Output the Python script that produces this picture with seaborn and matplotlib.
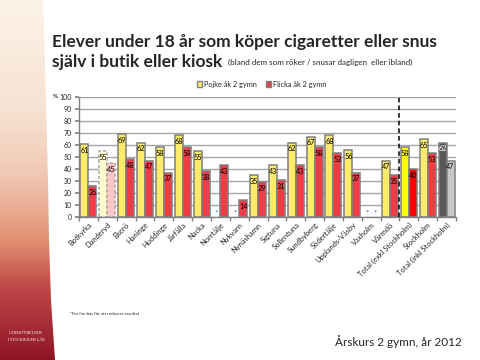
import numpy as np
import pandas as pd
import matplotlib
matplotlib.use('Agg')
import matplotlib.pyplot as plt
from matplotlib.patches import Polygon, Patch
import seaborn as sns

kommuner = ['Botkyrka', 'Danderyd', 'Ekerö', 'Haninge', 'Huddinge', 'Järfälla', 'Nacka',
            'Norrtälje', 'Nykvarn', 'Nynäshamn', 'Sigtuna', 'Sollentuna', 'Sundbyberg',
            'Södertälje', 'Upplands-Väsby', 'Vaxholm', 'Värmdö', 'Total (exkl Stockholm)',
            'Stockholm', 'Total (inkl Stockholm)']
pojke = [61, 55, 69, 62, 58, 68, 55, np.nan, np.nan, 35, 43, 62, 67, 68, 56, np.nan, 47, 58, 65, 62]
flicka = [26, 45, 48, 47, 37, 58, 38, 43, 14, 29, 31, 43, 58, 53, 37, np.nan, 35, 40, 53, 47]
serier = ['Pojke åk 2 gymn', 'Flicka åk 2 gymn']

sns.set_theme(style='white')
plt.rcParams['font.family'] = ['Lato', 'DejaVu Sans']

df = pd.DataFrame({'Kommun': kommuner * 2,
                   'Kön': [serier[0]] * len(kommuner) + [serier[1]] * len(kommuner),
                   'Andel': pojke + flicka}).dropna()

fig = plt.figure(figsize=(4.8, 3.6), dpi=100)

# left decorative band
bg = fig.add_axes([0, 0, 1, 1], zorder=0)
bg.set_xlim(0, 480)
bg.set_ylim(360, 0)
bg.axis('off')
grad = np.linspace(0, 1, 256)[:, None]
cmap = matplotlib.colors.LinearSegmentedColormap.from_list(
    'band', [(0, '#fdf3e8'), (0.33, '#f6e0d0'), (0.5, '#f0c5b0'), (0.67, '#e09070'),
             (0.8, '#c04848'), (1, '#8e1426')])
im = bg.imshow(grad, aspect='auto', cmap=cmap, extent=[0, 65, 360, 0])
edge = [(0, 0), (43, 0), (46, 100), (48, 180), (49, 240), (51, 300), (55, 360), (0, 360)]
poly = Polygon(edge, closed=True, facecolor='none', edgecolor='none')
bg.add_patch(poly)
im.set_clip_path(poly)
bg.text(26, 333, 'LÄNSSTYRELSEN', color='white', fontsize=3, ha='center', va='center',
        family='Liberation Serif')
bg.text(26, 340, 'I STOCKHOLMS LÄN', color='white', fontsize=2.8, ha='center', va='center',
        family='Liberation Serif')

ax = fig.add_axes([79 / 480, 1 - 217 / 360, (456 - 79) / 480, 120 / 360], zorder=2)
sns.barplot(data=df, x='Kommun', y='Andel', hue='Kön', order=kommuner, hue_order=serier,
            palette=['#fcec6a', '#ee3d45'], width=0.85, saturation=1,
            edgecolor='#808080', linewidth=1.1, legend=False, ax=ax)

special = {1: ('#fffbcc', '#ffc6c6'), 17: ('#ffff00', '#ff0000'), 19: ('#595959', '#c8c8c8')}
for p in ax.patches:
    xc = p.get_x() + p.get_width() / 2
    i = int(round(xc))
    first = xc < i
    if i in special:
        p.set_facecolor(special[i][0] if first else special[i][1])
    if i == 1:
        p.set_linestyle((0, (2, 1.5)))
        p.set_edgecolor('#a6a6a6')
    h = p.get_height()
    col = 'white' if (i == 19 and first) else 'black'
    ax.annotate(f'{h:.0f}', (xc, h), xytext=(0, -4.5), textcoords='offset points',
                ha='center', va='center', fontsize=5.2, color=col, zorder=5)

# missing values
for i, (b, g) in enumerate(zip(pojke, flicka)):
    for v, off in ((b, -0.21), (g, 0.21)):
        if np.isnan(v):
            ax.text(i + off, 3.5, '*', color='#2f5597', fontsize=5.5, ha='center', va='center')

ax.axvline(16.5, color='black', linestyle=(0, (3, 2)), linewidth=1.1, zorder=4)

ax.set_xlim(-0.5, len(kommuner) - 0.5)
ax.set_ylim(0, 100)
ax.set_yticks(range(0, 101, 10))
ax.yaxis.grid(True, color='#a6a6a6', linewidth=1)
ax.set_axisbelow(True)
for s in ['top', 'right']:
    ax.spines[s].set_visible(False)
for s in ['left', 'bottom']:
    ax.spines[s].set_color('#808080')
    ax.spines[s].set_linewidth(1)
ax.set_xticks(range(len(kommuner)))
ax.set_xticklabels(kommuner, rotation=45, ha='right', rotation_mode='anchor', fontsize=5.4)
ax.set_xticks(np.arange(-0.5, len(kommuner), 1), minor=True)
ax.tick_params(axis='x', which='major', length=0, pad=3)
ax.tick_params(axis='x', which='minor', length=3, color='#808080', direction='out', bottom=True)
ax.tick_params(axis='y', labelsize=5, length=3, color='#808080', left=True, pad=2)
ax.set_xlabel('')
ax.set_ylabel('')

fig.text(58 / 480, 1 - 97 / 360, '%', fontsize=4.5, fontweight='bold', ha='right', va='center')

handles = [Patch(facecolor='#fcec6a', edgecolor='#808080'),
           Patch(facecolor='#ee3d45', edgecolor='#808080')]
fig.legend(handles, serier, loc='center', bbox_to_anchor=(262 / 480, 1 - 84 / 360), ncol=2,
           frameon=False, fontsize=5.3, handlelength=0.7, handleheight=0.7,
           handletextpad=0.3, columnspacing=1.2)

fig.text(52 / 480, 1 - 42 / 360, 'Elever under 18 år som köper cigaretter eller snus',
         fontsize=12.5, fontweight='bold', ha='left', va='center')
fig.text(52 / 480, 1 - 62 / 360, 'själv i butik eller kiosk',
         fontsize=12.5, fontweight='bold', ha='left', va='center')
fig.text(228 / 480, 1 - 62 / 360, '(bland dem som röker / snusar dagligen  eller ibland)',
         fontsize=5.8, ha='left', va='center')

fig.text(70 / 480, 1 - 314 / 360, '*För lite bas för att redovisa resultat', fontsize=3.2,
         ha='left', va='center')
fig.text(462 / 480, 1 - 342 / 360, 'Årskurs 2 gymn, år 2012', fontsize=8.5,
         ha='right', va='center')

fig.savefig('out.png', dpi=100)
